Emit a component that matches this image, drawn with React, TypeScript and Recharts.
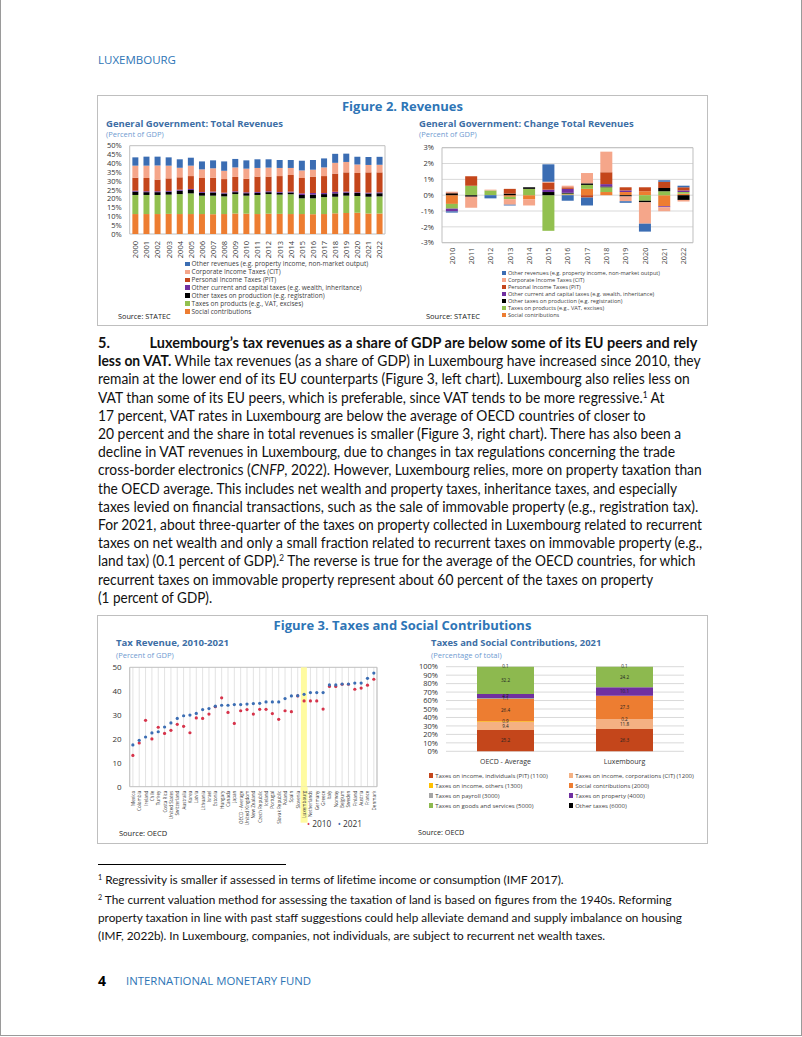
import React, { useLayoutEffect, useRef, useState } from 'react';
import { BarChart, Bar, XAxis, YAxis, CartesianGrid, ReferenceArea, ComposedChart, Scatter, LabelList } from 'recharts';

// ---------- Figure 2 (left): total revenues, percent of GDP ----------
const years = ['2000','2001','2002','2003','2004','2005','2006','2007','2008','2009','2010','2011','2012','2013','2014','2015','2016','2017','2018','2019','2020','2021','2022'];
const socialContrib = [11.3,11.3,11.3,11.4,11.3,11.3,11.3,11.2,11.3,11.6,11.5,11.3,11.5,11.4,11.3,11.3,11.2,11.3,11.7,11.9,12.1,11.6,11.6];
const taxesProducts = [10.8,10.8,10.8,10.9,11.3,11.7,10.4,10.5,10.0,11.0,10.2,10.8,11.1,10.9,11.2,8.9,9.0,9.6,9.4,9.8,9.4,9.5,9.7];
const taxesProduction = [1.9,1.6,1.6,1.6,1.9,1.9,1.6,1.8,1.6,1.1,1.4,1.2,1.1,1.0,1.0,1.9,2.1,1.7,1.9,1.7,1.7,1.8,1.8];
const otherCurrent = [0.5,0.5,0.5,0.5,0.6,0.6,0.5,0.5,0.5,0.5,0.5,0.5,0.5,0.5,0.5,0.9,0.9,0.6,0.9,0.6,0.5,0.5,0.5];
const pitRev = [7.4,7.5,6.6,7.1,7.0,7.3,7.9,7.9,7.7,8.1,7.7,8.7,8.3,9.0,9.4,8.7,9.3,9.6,10.3,10.9,10.9,11.5,11.3];
const citRev = [6.8,7.0,8.0,7.2,5.4,5.9,4.9,5.3,4.7,5.4,5.7,4.9,5.1,4.6,4.0,4.3,3.9,4.9,6.1,5.9,4.7,4.2,4.3];
const otherRev = [4.7,5.1,5.0,4.7,4.8,4.5,4.5,4.5,5.3,4.8,4.7,4.9,4.7,4.5,4.5,5.5,5.5,5.1,5.1,4.7,4.4,4.5,4.5];
const revTicks = [0,5,10,15,20,25,30,35,40,45,50];

// ---------- Figure 2 (right): change in total revenues ----------
const chgYears = ['2010','2011','2012','2013','2014','2015','2016','2017','2018','2019','2020','2021','2022'];
const chgSocial = [-0.55,0,0,-0.1,-0.25,0,0.05,0.4,0.2,0.2,0.25,-0.7,0.1];
const chgProducts = [-0.3,0.6,0.3,-0.15,0.4,-2.25,0.05,0.25,0.3,0,-0.35,0.25,0.1];
const chgProduction = [0.12,-0.1,0,0.1,0.1,0.2,0.05,0.1,0.05,-0.08,-0.1,0.2,-0.3];
const chgOtherCurrent = [-0.17,0,0,0,0,0.15,0.25,0,0.15,0.1,0,-0.06,0.1];
const chgPit = [0.05,0.6,0,0.3,0,0.45,0.1,-0.15,0.75,0.2,0.25,0.4,0.2];
const chgCit = [0.05,-0.7,0.05,-0.35,-0.4,0.05,0.1,0.65,1.3,-0.3,-1.35,-0.25,-0.1];
const chgOther = [-0.08,0,-0.2,-0.05,0,1.1,-0.35,-0.5,0,-0.1,-0.5,0.1,0.1];
const chgTicks = [-3,-2,-1,0,1,2,3];

const revSeries = [
  { key: 'social', name: 'Social contributions', color: '#ED7D31' },
  { key: 'products', name: 'Taxes on products (e.g., VAT, excises)', color: '#92C04F' },
  { key: 'production', name: 'Other taxes on production (e.g. registration)', color: '#000000' },
  { key: 'otherCur', name: 'Other current and capital taxes (e.g.  wealth, inheritance)', color: '#7030A0' },
  { key: 'pit', name: 'Personal Income Taxes (PIT)', color: '#C4461B' },
  { key: 'cit', name: 'Corporate Income Taxes (CIT)', color: '#F5A68A' },
  { key: 'other', name: 'Other revenues (e.g. property income, non-market output)', color: '#3B6DB3' },
];

// ---------- Figure 3 (left): tax revenue 2010 vs 2021 ----------
const countries = ['Mexico','Colombia','Ireland','Chile','Turkey','Costa Rica','United States','Switzerland','Australia','Korea','Latvia','Lithuania','Israel','Estonia','Hungary','Canada','Japan','OECD - Average','United Kingdom','New Zealand','Czech Republic','Iceland','Portugal','Slovak Republic','Poland','Spain','Slovenia','Luxembourg','Netherlands','Germany','Greece','Italy','Norway','Belgium','Sweden','Finland','Austria','France','Denmark'];
const tax2010 = [13.1,18.3,27.8,20.0,24.9,22.3,23.6,26.1,25.3,22.6,28.8,28.6,30.4,33.5,37.2,31.1,26.5,31.8,32.3,30.4,32.4,32.4,30.6,28.2,31.8,31.4,38.0,35.9,35.9,35.9,32.5,42.0,42.0,42.9,42.9,40.8,41.3,42.5,45.0];
const tax2021 = [17.5,19.4,20.8,22.5,23.0,25.0,26.7,28.6,29.7,30.0,30.7,32.3,32.7,33.7,34.1,34.1,34.4,34.4,34.6,34.8,34.9,35.5,35.5,35.5,36.9,38.0,38.1,38.7,39.4,39.4,39.4,42.6,42.6,43.0,43.0,43.4,43.4,45.4,47.6];
const highlightCountry = 'Luxembourg';
const taxTicks = [0,10,20,30,40,50];

// ---------- Figure 3 (right): taxes and social contributions, 2021 ----------
const structCats = ['OECD - Average','Luxembourg'];
const pitShare = [25.2,26.3];
const citShare = [9.4,11.8];
const othersIncomeShare = [0.9,0.2];
const socialShare = [26.4,27.3];
const payrollShare = [1.1,0.0];
const propertyShare = [4.7,10.1];
const goodsShare = [32.2,24.2];
const otherTaxShare = [0.1,0.1];
const shareTicks = [0,10,20,30,40,50,60,70,80,90,100];

const structSeries = [
  { key: 'pit', name: 'Taxes on income, individuals (PIT) (1100)', color: '#C4461B' },
  { key: 'cit', name: 'Taxes on income, corporations (CIT) (1200)', color: '#F4B183' },
  { key: 'othersInc', name: 'Taxes on income, others (1300)', color: '#FFC000' },
  { key: 'social', name: 'Social contributions (2000)', color: '#ED7D31' },
  { key: 'payroll', name: 'Taxes on payroll (3000)', color: '#A5A5A5' },
  { key: 'property', name: 'Taxes on property (4000)', color: '#7030A0' },
  { key: 'goods', name: 'Taxes on goods and services (5000)', color: '#8DB94F' },
  { key: 'otherTax', name: 'Other taxes (6000)', color: '#000000' },
];

const revData = years.map((y, i) => ({
  year: y, social: socialContrib[i], products: taxesProducts[i], production: taxesProduction[i],
  otherCur: otherCurrent[i], pit: pitRev[i], cit: citRev[i], other: otherRev[i],
}));
const chgData = chgYears.map((y, i) => ({
  year: y, social: chgSocial[i], products: chgProducts[i], production: chgProduction[i],
  otherCur: chgOtherCurrent[i], pit: chgPit[i], cit: chgCit[i], other: chgOther[i],
}));
const taxData = countries.map((c, i) => ({
  country: c, v2010: tax2010[i], v2021: tax2021[i], hl: c === highlightCountry ? 50 : null,
}));
const structData = structCats.map((c, i) => ({
  cat: c, pit: pitShare[i], cit: citShare[i], othersInc: othersIncomeShare[i], social: socialShare[i],
  payroll: payrollShare[i], property: propertyShare[i], goods: goodsShare[i], otherTax: otherTaxShare[i],
}));

const BLUE = '#2E75B6';
const SUB = '#3D6EA5';
const LIGHT = '#6F9BD1';
const chartFont = "'Open Sans', Lato, sans-serif";

const T: React.FC<{ x: number; y: number; size: number; children: React.ReactNode; style?: React.CSSProperties }> = ({ x, y, size, children, style }) => (
  <div style={{ position: 'absolute', left: x, top: y - size * 0.5, fontSize: size, lineHeight: `${size}px`, whiteSpace: 'nowrap', ...style }}>{children}</div>
);

const RotTick = (props: any) => {
  const { x, y, payload, fs, hl, off = 0 } = props;
  const isHl = hl && payload.value === hl;
  const yy = y + off;
  return (
    <g>
      {isHl && <rect x={x - 3.5} y={yy - 4} width={7} height={36} fill="#FFFBA0" />}
      <text x={x} y={yy} transform={`rotate(-90 ${x} ${yy})`} textAnchor="end" dominantBaseline="central" fontSize={fs} fill="#404040" fontFamily={chartFont}>
        {payload.value}
      </text>
    </g>
  );
};

const Legend: React.FC<{ items: { name: string; color: string }[]; x: number; y: number; step: number; fs: number }> = ({ items, x, y, step, fs }) => (
  <>
    {items.map((it, i) => (
      <div key={it.name} style={{ position: 'absolute', left: x, top: y + i * step - fs * 0.5, fontSize: fs, lineHeight: `${fs}px`, whiteSpace: 'nowrap', color: '#404040', fontFamily: chartFont }}>
        <span style={{ display: 'inline-block', width: fs * 0.7, height: fs * 0.7, background: it.color, marginRight: 2 }} />
        {it.name}
      </div>
    ))}
  </>
);

const sup = (s: string) => <span style={{ fontSize: '0.6em', verticalAlign: '0.6em', lineHeight: 0 }}>{s}</span>;

const paraLines: React.ReactNode[] = [
  <b><span style={{ display: 'inline-block', width: 52 }}>5.</span>Luxembourg’s tax revenues as a share of GDP are below some of its EU peers and rely</b>,
  <><b>less on VAT.</b> While tax revenues (as a share of GDP) in Luxembourg have increased since 2010, they</>,
  <>remain at the lower end of its EU counterparts (Figure 3, left chart). Luxembourg also relies less on</>,
  <>VAT than some of its EU peers, which is preferable, since VAT tends to be more regressive.{sup('1')}{'\u00A0'}At</>,
  <>17 percent, VAT rates in Luxembourg are below the average of OECD countries of closer to</>,
  <>20 percent and the share in total revenues is smaller (Figure 3, right chart). There has also been a</>,
  <>decline in VAT revenues in Luxembourg, due to changes in tax regulations concerning the trade</>,
  <>cross-border electronics (<i>CNFP</i>, 2022). However, Luxembourg relies, more on property taxation than</>,
  <>the OECD average. This includes net wealth and property taxes, inheritance taxes, and especially</>,
  <>taxes levied on financial transactions, such as the sale of immovable property (e.g., registration tax).</>,
  <>For 2021, about three-quarter of the taxes on property collected in Luxembourg related to recurrent</>,
  <>taxes on net wealth and only a small fraction related to recurrent taxes on immovable property (e.g.,</>,
  <>land tax) (0.1 percent of GDP).{sup('2')} The reverse is true for the average of the OECD countries, for which</>,
  <>recurrent taxes on immovable property represent about 60 percent of the taxes on property</>,
  <>(1 percent of GDP).</>,
];
// widths of each typeset line in the reference page (text layout only)
const paraWidths = [599, 603, 592, 567, 548, 583, 577, 604, 579, 600, 604, 604, 597, 555, 114];

const FitLine: React.FC<{ top: number; width: number; children: React.ReactNode }> = ({ top, width, children }) => {
  const ref = useRef<HTMLDivElement>(null);
  const [s, setS] = useState(1);
  useLayoutEffect(() => {
    if (ref.current) {
      const w = ref.current.scrollWidth;
      if (w > 0) setS(width / w);
    }
  }, [width]);
  return (
    <div ref={ref} style={{ position: 'absolute', left: 97, top, width: 'max-content', fontSize: 14.6, lineHeight: '18px', whiteSpace: 'nowrap', fontFamily: 'Lato, sans-serif', color: '#111', transform: `scaleX(${s})`, transformOrigin: '0 0' }}>
      {children}
    </div>
  );
};

const dot = (color: string) => (p: any) => <circle cx={p.cx} cy={p.cy} r={1.6} fill={color} />;

export default function App() {
  return (
    <div style={{ position: 'absolute', left: 0, top: 0, width: 800, height: 1035, background: '#fff', borderLeft: '1px solid #9a9a9a', borderRight: '1px solid #9a9a9a', borderBottom: '1px solid #9a9a9a', fontFamily: chartFont, color: '#000', overflow: 'hidden' }}>
      <T x={97} y={60} size={11.5} style={{ color: BLUE, fontFamily: "'Open Sans', sans-serif" }}>LUXEMBOURG</T>

      {/* Figure 2 */}
      <div style={{ position: 'absolute', left: 96, top: 95, width: 609, height: 229, border: '1px solid #bfbfbf' }} />
      <div style={{ position: 'absolute', left: 97, width: 609, top: 98, textAlign: 'center', fontSize: 13, fontWeight: 700, color: BLUE, lineHeight: '16px' }}>Figure 2. Revenues</div>
      <T x={105} y={123.5} size={9.5} style={{ color: SUB, fontWeight: 700 }}>General Government: Total Revenues</T>
      <T x={105} y={134.5} size={7.5} style={{ color: LIGHT }}>(Percent of GDP)</T>
      <T x={418} y={123.5} size={9.5} style={{ color: SUB, fontWeight: 700 }}>General Government: Change Total Revenues</T>
      <T x={418} y={134.5} size={7.5} style={{ color: LIGHT }}>(Percent of GDP)</T>

      <div style={{ position: 'absolute', left: 98, top: 140 }}>
        <BarChart width={300} height={120} data={revData} margin={{ top: 5.7, right: 14, bottom: 0, left: 0 }} barCategoryGap="24%">
          <XAxis dataKey="year" interval={0} height={26} axisLine={false} tickLine={false} tick={<RotTick fs={7.5} off={-1} />} />
          <YAxis domain={[0, 50]} ticks={revTicks} tickFormatter={(v: number) => `${v}%`} width={30.7} axisLine={false} tickLine={false} tick={{ fontSize: 7.5, fill: '#333' }} interval={0} />
          {revSeries.map((s) => (
            <Bar key={s.key} dataKey={s.key} name={s.name} stackId="a" fill={s.color} isAnimationActive={false} />
          ))}
          <ReferenceArea y1={0} y2={50} fill="none" stroke="#bfbfbf" ifOverflow="visible" />
        </BarChart>
      </div>
      <Legend items={[...revSeries].reverse()} x={184} y={264.5} step={7.9} fs={6.5} />
      <T x={117} y={317} size={7.3} style={{ color: '#222' }}>Source: STATEC</T>

      <div style={{ position: 'absolute', left: 410, top: 140 }}>
        <BarChart width={300} height={126.7} data={chgData} stackOffset="sign" margin={{ top: 7.7, right: 18, bottom: 0, left: 0 }} barCategoryGap="20%">
          <CartesianGrid vertical={false} stroke="#d9d9d9" />
          <XAxis dataKey="year" interval={0} height={24} axisLine={false} tickLine={false} tick={<RotTick fs={7.3} off={-3} />} />
          <YAxis domain={[-3, 3]} ticks={chgTicks} tickFormatter={(v: number) => `${v}%`} width={31} axisLine={false} tickLine={false} tick={{ fontSize: 7.5, fill: '#333' }} interval={0} />
          {revSeries.map((s) => (
            <Bar key={s.key} dataKey={s.key} name={s.name} stackId="a" fill={s.color} isAnimationActive={false} />
          ))}
          <ReferenceArea y1={-3} y2={3} fill="none" stroke="#bfbfbf" ifOverflow="visible" />
        </BarChart>
      </div>
      <Legend items={[...revSeries].reverse()} x={501} y={274} step={6.95} fs={5.6} />
      <T x={425} y={317} size={7.5} style={{ color: '#222' }}>Source: STATEC</T>

      {/* Paragraph */}
      {paraLines.map((ln, i) => (
        <FitLine key={i} top={334 + i * 18.2} width={paraWidths[i]}>{ln}</FitLine>
      ))}

      {/* Figure 3 */}
      <div style={{ position: 'absolute', left: 96, top: 615, width: 609, height: 227, border: '1px solid #bfbfbf' }} />
      <div style={{ position: 'absolute', left: 97, width: 609, top: 617, textAlign: 'center', fontSize: 13, fontWeight: 700, color: BLUE, lineHeight: '16px' }}>Figure 3. Taxes and Social Contributions</div>
      <T x={115} y={643} size={9.6} style={{ color: SUB, fontWeight: 700 }}>Tax Revenue, 2010-2021</T>
      <T x={115} y={655.5} size={7.5} style={{ color: LIGHT }}>(Percent of GDP)</T>
      <T x={430} y={643} size={9.4} style={{ color: SUB, fontWeight: 700 }}>Taxes and Social Contributions, 2021</T>
      <T x={430} y={655.5} size={7.5} style={{ color: LIGHT }}>(Percentage of total)</T>

      <div style={{ position: 'absolute', left: 98, top: 660 }}>
        <ComposedChart width={290} height={166.7} data={taxData} margin={{ top: 7.3, right: 12, bottom: 0, left: 0 }} barCategoryGap={0}>
          <CartesianGrid horizontal={false} vertical={true} stroke="#e3e3e3" />
          <XAxis dataKey="country" type="category" interval={0} height={40} axisLine={false} tickLine={false} tick={<RotTick fs={4.6} hl={highlightCountry} off={-4} />} />
          <YAxis domain={[0, 50]} ticks={taxTicks} width={30.7} axisLine={false} tickLine={false} tick={{ fontSize: 8, fill: '#333' }} interval={0} />
          <Bar dataKey="hl" fill="#FFFBA0" isAnimationActive={false} />
          <Scatter dataKey="v2010" name="2010" fill="#D6334A" shape={dot('#D6334A')} isAnimationActive={false} />
          <Scatter dataKey="v2021" name="2021" fill="#3B6DB3" shape={dot('#3B6DB3')} isAnimationActive={false} />
          <ReferenceArea y1={0} y2={50} fill="none" stroke="#bfbfbf" ifOverflow="visible" />
        </ComposedChart>
      </div>
      <T x={306} y={824.5} size={8.3} style={{ color: '#333' }}>
        <span style={{ color: '#D6334A' }}>•</span> 2010 &nbsp; <span style={{ color: '#3B6DB3' }}>•</span> 2021
      </T>
      <T x={118} y={834} size={7.5} style={{ color: '#222' }}>Source: OECD</T>

      <div style={{ position: 'absolute', left: 410, top: 660 }}>
        <BarChart width={290} height={107.3} data={structData} margin={{ top: 6.7, right: 17, bottom: 0, left: 0 }}>
          <CartesianGrid vertical={false} stroke="#d9d9d9" />
          <XAxis dataKey="cat" interval={0} height={16} axisLine={false} tickLine={false} tick={{ fontSize: 7, fill: '#333' }} />
          <YAxis domain={[0, 100]} ticks={shareTicks} tickFormatter={(v: number) => `${v}%`} width={35} axisLine={false} tickLine={false} tick={{ fontSize: 7.5, fill: '#333' }} interval={0} />
          {structSeries.map((s) => (
            <Bar key={s.key} dataKey={s.key} name={s.name} stackId="a" fill={s.color} barSize={57} isAnimationActive={false}>
              <LabelList dataKey={s.key} position="center" fontSize={4.6} fill="#222" formatter={(v: any) => Number(v).toFixed(1)} />
            </Bar>
          ))}
        </BarChart>
      </div>
      <Legend items={structSeries.filter((_, i) => i % 2 === 0)} x={428} y={775.5} step={10} fs={6} />
      <Legend items={structSeries.filter((_, i) => i % 2 === 1)} x={568} y={775.5} step={10} fs={6} />
      <T x={417} y={833} size={7.2} style={{ color: '#222' }}>Source: OECD</T>

      {/* Footnotes */}
      <div style={{ position: 'absolute', left: 97, top: 864, width: 188, height: 1, background: '#000' }} />
      <T x={97} y={880} size={11.8} style={{ fontFamily: 'Lato, sans-serif', color: '#111' }}>{sup('1')} Regressivity is smaller if assessed in terms of lifetime income or consumption (IMF 2017).</T>
      <T x={97} y={900} size={11.8} style={{ fontFamily: 'Lato, sans-serif', color: '#111' }}>{sup('2')} The current valuation method for assessing the taxation of land is based on figures from the 1940s. Reforming</T>
      <T x={97} y={918} size={11.8} style={{ fontFamily: 'Lato, sans-serif', color: '#111' }}>property taxation in line with past staff suggestions could help alleviate demand and supply imbalance on housing</T>
      <T x={97} y={936} size={11.8} style={{ fontFamily: 'Lato, sans-serif', color: '#111' }}>(IMF, 2022b). In Luxembourg, companies, not individuals, are subject to recurrent net wealth taxes.</T>

      {/* Footer */}
      <T x={97} y={981} size={14} style={{ fontWeight: 700 }}>4</T>
      <T x={125} y={981} size={11.4} style={{ color: BLUE, fontFamily: "'Open Sans', sans-serif" }}>INTERNATIONAL MONETARY FUND</T>
    </div>
  );
}
